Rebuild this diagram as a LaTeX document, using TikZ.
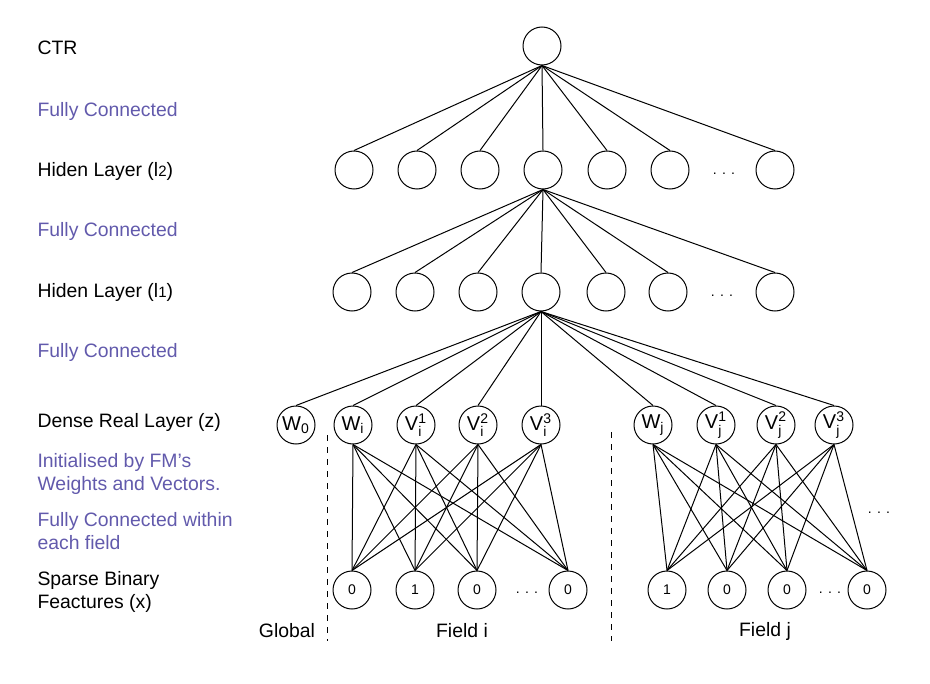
\documentclass[tikz,border=0pt]{standalone}
\usepackage{fontspec}
\usepackage{amsmath}
\setmainfont{Liberation Sans}
\definecolor{fcpurple}{RGB}{98,90,172}
\tikzset{
  neuron/.style={circle, draw, minimum size=19pt, inner sep=0pt, font=\fontsize{10}{11}\selectfont},
  bitnode/.style={neuron, font=\fontsize{7}{8}\selectfont},
  layerlabel/.style={anchor=west, align=left, inner sep=0pt, font=\fontsize{9.7}{11.5}\selectfont},
  fclabel/.style={layerlabel, text=fcpurple},
  dotsnode/.style={inner sep=0pt, font=\fontsize{7}{8}\selectfont},
}

\begin{document}
\begin{tikzpicture}[x=0.5pt, y=-0.5pt, line width=0.5pt]
    \useasboundingbox (0,0) rectangle (930,684);
    % Define labels
    \node[layerlabel] (ctrlab) at (37,48) {CTR};
    \node[fclabel] (fc3) at (37,111) {Fully Connected};
    \node[layerlabel] (l2lab) at (37,171) {Hiden Layer (l{\fontsize{7.5}{8}\selectfont 2})};
    \node[fclabel] (fc2) at (37,231) {Fully Connected};
    \node[layerlabel] (l1lab) at (37,292) {Hiden Layer (l{\fontsize{7.5}{8}\selectfont 1})};
    \node[fclabel] (fc1) at (37,352) {Fully Connected};
    \node[layerlabel] (zlab) at (37,422) {Dense Real Layer (z)};
    \node[fclabel] (initlab) at (37,474) {Initialised by FM’s\\Weights and Vectors.};
    \node[fclabel] (fieldfc) at (37,531) {Fully Connected within\\each field};
    \node[layerlabel] (xlab) at (37,592) {Sparse Binary\\Feactures (x)};
    \node[layerlabel, anchor=center] (globlab) at (287,631) {Global};
    \node[layerlabel, anchor=center] (filab) at (462,631) {Field i};
    \node[layerlabel, anchor=center] (fjlab) at (765,631) {Field j};

    % Define vertices
    \node[neuron] (ctr) at (542,46) {};
    \foreach \i/\x in {1/354,2/417,3/480,4/543,5/607,6/670,7/775}
        \node[neuron] (h2-\i) at (\x,170) {};
    \node[dotsnode] (h2dots) at (724,174) {. . .};
    \foreach \i/\x in {1/352,2/415,3/478,4/541,5/606,6/668,7/775}
        \node[neuron] (h1-\i) at (\x,292) {};
    \node[dotsnode] (h1dots) at (722,296) {. . .};

    \node[neuron] (w0) at (296,425) {W\textsubscript{0}};
    \node[neuron] (wi) at (353,425) {W$_{\text{i}}$};
    \node[neuron] (vi1) at (416,425) {V$_{\text{i}}^{\text{1}}$};
    \node[neuron] (vi2) at (478,425) {V$_{\text{i}}^{\text{2}}$};
    \node[neuron] (vi3) at (541,425) {V$_{\text{i}}^{\text{3}}$};
    \node[neuron] (wj) at (653,425) {W$_{\text{j}}$};
    \node[neuron] (vj1) at (716,425) {V$_{\text{j}}^{\text{1}}$};
    \node[neuron] (vj2) at (776,425) {V$_{\text{j}}^{\text{2}}$};
    \node[neuron] (vj3) at (834,425) {V$_{\text{j}}^{\text{3}}$};

    \foreach \i/\x/\b in {1/352/0,2/415/1,3/477/0,4/568/0}
        \node[bitnode] (xi\i) at (\x,590) {\b};
    \foreach \i/\x/\b in {1/667/1,2/727/0,3/787/0,4/867/0}
        \node[bitnode] (xj\i) at (\x,590) {\b};
    \node[dotsnode] (xidots) at (527,593) {. . .};
    \node[dotsnode] (xjdots) at (830,593) {. . .};
    \node[dotsnode] (moredots) at (879,513) {. . .};

    % Draw edges
    \foreach \i in {1,...,7}
        \draw (ctr.south) -- (h2-\i.north);
    \foreach \i in {1,...,7}
        \draw (h2-4.south) -- (h1-\i.north);
    \foreach \n in {w0,wi,vi1,vi2,vi3,wj,vj1,vj2,vj3}
        \draw (h1-4.south) -- (\n.north);
    \foreach \a in {wi,vi1,vi2,vi3}
        \foreach \b in {1,...,4}
            \draw (\a.south) -- (xi\b.north);
    \foreach \a in {wj,vj1,vj2,vj3}
        \foreach \b in {1,...,4}
            \draw (\a.south) -- (xj\b.north);

    % Field borders
    \draw[dashed] (327,435) -- (327,641);
    \draw[dashed] (611,432) -- (611,641);
\end{tikzpicture}
\end{document}
